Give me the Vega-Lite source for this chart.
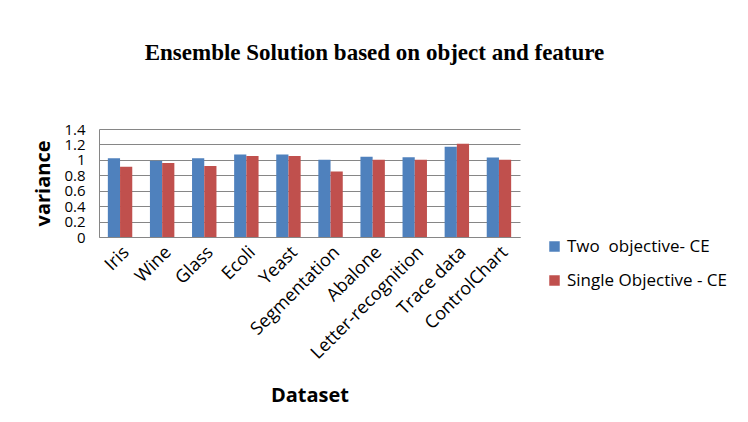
{
  "$schema": "https://vega.github.io/schema/vega-lite/v6.json",
  "autosize": {"type": "none"},
  "width": 421,
  "height": 108,
  "padding": {"left": 99, "top": 129, "right": 228, "bottom": 185},
  "background": "white",
  "title": {
    "text": "Ensemble Solution based on object and feature",
    "font": "Liberation Serif",
    "fontSize": 23,
    "fontWeight": "bold",
    "color": "black",
    "dx": 65,
    "offset": 57,
    "anchor": "middle"
  },
  "data": {
    "values": [
      {"dataset": "Iris", "series": "Two  objective- CE", "variance": 1.02},
      {"dataset": "Iris", "series": "Single Objective - CE", "variance": 0.91},
      {"dataset": "Wine", "series": "Two  objective- CE", "variance": 0.99},
      {"dataset": "Wine", "series": "Single Objective - CE", "variance": 0.96},
      {"dataset": "Glass", "series": "Two  objective- CE", "variance": 1.02},
      {"dataset": "Glass", "series": "Single Objective - CE", "variance": 0.92},
      {"dataset": "Ecoli", "series": "Two  objective- CE", "variance": 1.07},
      {"dataset": "Ecoli", "series": "Single Objective - CE", "variance": 1.05},
      {"dataset": "Yeast", "series": "Two  objective- CE", "variance": 1.07},
      {"dataset": "Yeast", "series": "Single Objective - CE", "variance": 1.05},
      {"dataset": "Segmentation", "series": "Two  objective- CE", "variance": 1.0},
      {"dataset": "Segmentation", "series": "Single Objective - CE", "variance": 0.85},
      {"dataset": "Abalone", "series": "Two  objective- CE", "variance": 1.04},
      {"dataset": "Abalone", "series": "Single Objective - CE", "variance": 1.0},
      {"dataset": "Letter-recognition", "series": "Two  objective- CE", "variance": 1.035},
      {"dataset": "Letter-recognition", "series": "Single Objective - CE", "variance": 1.0},
      {"dataset": "Trace data", "series": "Two  objective- CE", "variance": 1.17},
      {"dataset": "Trace data", "series": "Single Objective - CE", "variance": 1.21},
      {"dataset": "ControlChart", "series": "Two  objective- CE", "variance": 1.03},
      {"dataset": "ControlChart", "series": "Single Objective - CE", "variance": 1.0}
    ]
  },
  "mark": {"type": "bar"},
  "encoding": {
    "x": {
      "field": "dataset",
      "type": "nominal",
      "sort": null,
      "title": "Dataset",
      "scale": {"paddingInner": 0.42, "paddingOuter": 0.21},
      "axis": {
        "labelAngle": -45,
        "labelFont": "Open Sans",
        "labelFontSize": 18,
        "labelColor": "black",
        "labelPadding": 6,
        "labelOverlap": false,
        "ticks": false,
        "domainColor": "#868686",
        "titleFont": "Open Sans",
        "titleFontSize": 20,
        "titleFontWeight": "bold",
        "titleColor": "black",
        "titlePadding": 23
      }
    },
    "xOffset": {"field": "series", "type": "nominal", "sort": ["Two  objective- CE", "Single Objective - CE"], "scale": {"paddingInner": 0}},
    "y": {
      "field": "variance",
      "type": "quantitative",
      "title": "variance",
      "scale": {"domain": [0, 1.4], "nice": false},
      "axis": {
        "values": [0, 0.2, 0.4, 0.6, 0.8, 1, 1.2, 1.4],
        "format": "~g",
        "labelFont": "Open Sans",
        "labelFontSize": 15,
        "labelColor": "black",
        "labelPadding": 14,
        "labelOverlap": false,
        "ticks": false,
        "domainColor": "#868686",
        "gridColor": "#868686",
        "gridWidth": 1,
        "titleFont": "Open Sans",
        "titleFontSize": 20,
        "titleFontWeight": "bold",
        "titleColor": "black",
        "titlePadding": 10
      }
    },
    "color": {
      "field": "series",
      "type": "nominal",
      "sort": ["Two  objective- CE", "Single Objective - CE"],
      "scale": {"range": ["#4F81BD", "#C0504D"]},
      "legend": {
        "title": null,
        "orient": "none",
        "legendX": 447,
        "legendY": 109,
        "symbolType": "square",
        "symbolSize": 110,
        "symbolStrokeWidth": 0,
        "labelFont": "Open Sans",
        "labelFontSize": 17,
        "labelColor": "black",
        "rowPadding": 16,
        "labelOffset": 4,
        "labelExpr": "replace(datum.label, '  ', '\u00a0 ')"
      }
    }
  },
  "config": {
    "view": {"stroke": null}
  }
}
